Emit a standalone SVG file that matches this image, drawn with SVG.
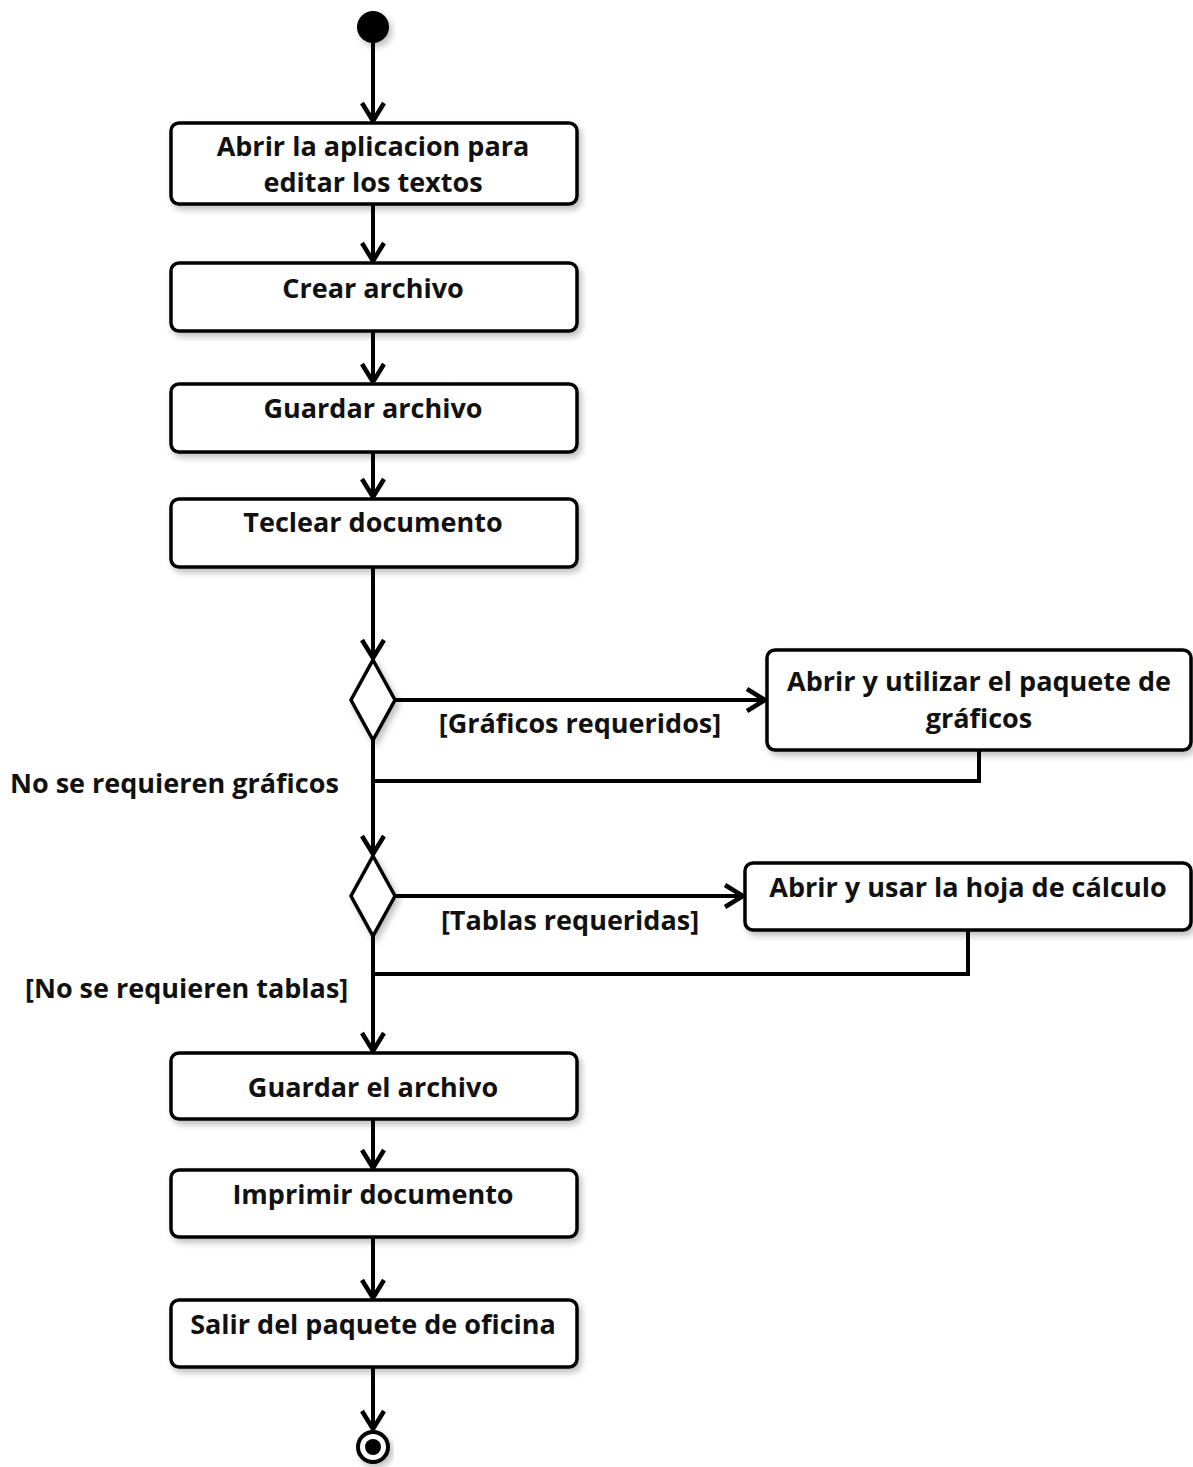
<svg xmlns="http://www.w3.org/2000/svg" width="1193" height="1467" viewBox="0 0 1193 1467">
<defs>
<filter id="sh" x="-10%" y="-10%" width="130%" height="140%">
<feDropShadow dx="3" dy="4" stdDeviation="3" flood-color="#000" flood-opacity="0.25"/>
</filter>
<marker id="ar" viewBox="0 0 24 26" refX="21" refY="13" markerWidth="24" markerHeight="26" markerUnits="userSpaceOnUse" orient="auto">
<path d="M3,2 L21,13 L3,24" fill="none" stroke="#000" stroke-width="4.5"/>
</marker>
<style>
.box{fill:#fff;stroke:#000;stroke-width:3.5}
.t{font-family:"Open Sans","Liberation Sans",sans-serif;font-weight:700;font-size:27px;fill:#111;text-anchor:middle}
.l{font-family:"Open Sans","Liberation Sans",sans-serif;font-weight:700;font-size:27px;fill:#111}
.c{fill:none;stroke:#000;stroke-width:4}
</style>
</defs>
<rect width="1193" height="1467" fill="#fff"/>
<g id="connectors">
<path class="c" d="M373,42 V121" marker-end="url(#ar)"/>
<path class="c" d="M373,204 V261" marker-end="url(#ar)"/>
<path class="c" d="M373,331 V382" marker-end="url(#ar)"/>
<path class="c" d="M373,452 V497" marker-end="url(#ar)"/>
<path class="c" d="M373,567 V658" marker-end="url(#ar)"/>
<path class="c" d="M395,700 H765" marker-end="url(#ar)"/>
<path class="c" d="M979,750 V781 H373"/>
<path class="c" d="M373,740 V854" marker-end="url(#ar)"/>
<path class="c" d="M395,896 H743" marker-end="url(#ar)"/>
<path class="c" d="M968,930 V974 H373"/>
<path class="c" d="M373,936 V1051" marker-end="url(#ar)"/>
<path class="c" d="M373,1119 V1168" marker-end="url(#ar)"/>
<path class="c" d="M373,1237 V1298" marker-end="url(#ar)"/>
<path class="c" d="M373,1367 V1429" marker-end="url(#ar)"/>
<text class="l" x="580" y="733" text-anchor="middle">[Gráficos requeridos]</text>
<text class="l" x="10" y="793">No se requieren gráficos</text>
<text class="l" x="570" y="930" text-anchor="middle">[Tablas requeridas]</text>
<text class="l" x="25" y="998">[No se requieren tablas]</text>
</g>
<g id="start"><circle cx="373" cy="27" r="16" fill="#000" filter="url(#sh)"/></g>
<g id="n1"><rect class="box" x="171" y="123" width="406" height="81" rx="8" filter="url(#sh)"/>
<text class="t" x="373" y="156">Abrir la aplicacion para</text><text class="t" x="373" y="192">editar los textos</text></g>
<g id="n2"><rect class="box" x="171" y="263" width="406" height="68" rx="8" filter="url(#sh)"/>
<text class="t" x="373" y="298">Crear archivo</text></g>
<g id="n3"><rect class="box" x="171" y="384" width="406" height="68" rx="8" filter="url(#sh)"/>
<text class="t" x="373" y="418">Guardar archivo</text></g>
<g id="n4"><rect class="box" x="171" y="499" width="406" height="68" rx="8" filter="url(#sh)"/>
<text class="t" x="373" y="532">Teclear documento</text></g>
<g id="d1"><polygon class="box" points="373,660 395,700 373,740 351,700" filter="url(#sh)"/></g>
<g id="n5"><rect class="box" x="767" y="650" width="424" height="100" rx="8" filter="url(#sh)"/>
<text class="t" x="979" y="691">Abrir y utilizar el paquete de</text><text class="t" x="979" y="728">gráficos</text></g>
<g id="d2"><polygon class="box" points="373,856 395,896 373,936 351,896" filter="url(#sh)"/></g>
<g id="n6"><rect class="box" x="745" y="863" width="446" height="67" rx="8" filter="url(#sh)"/>
<text class="t" x="968" y="897">Abrir y usar la hoja de cálculo</text></g>
<g id="n7"><rect class="box" x="171" y="1053" width="406" height="66" rx="8" filter="url(#sh)"/>
<text class="t" x="373" y="1097">Guardar el archivo</text></g>
<g id="n8"><rect class="box" x="171" y="1170" width="406" height="67" rx="8" filter="url(#sh)"/>
<text class="t" x="373" y="1204">Imprimir documento</text></g>
<g id="n9"><rect class="box" x="171" y="1300" width="406" height="67" rx="8" filter="url(#sh)"/>
<text class="t" x="373" y="1334">Salir del paquete de oficina</text></g>
<g id="end"><circle cx="373" cy="1447" r="15" fill="#fff" stroke="#000" stroke-width="4" filter="url(#sh)"/><circle cx="373" cy="1447" r="8" fill="#000"/></g>
</svg>
